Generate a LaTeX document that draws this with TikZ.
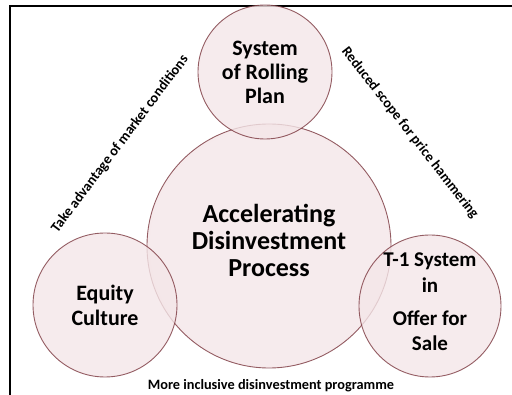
\documentclass[tikz,border=0pt]{standalone}
\usepackage{fontspec}
\setmainfont{Carlito}
\definecolor{bubin}{HTML}{F4E6E8}
\definecolor{bubmid}{HTML}{ECD3D6}
\definecolor{bubrim}{HTML}{CB8D95}
\definecolor{bubline}{HTML}{7A363E}
\pgfdeclareradialshading{bubbleshade}{\pgfpoint{0bp}{0bp}}{%
  color(0bp)=(bubin); color(24bp)=(bubin); color(42bp)=(bubmid);
  color(48bp)=(bubrim); color(49bp)=(bubrim); color(50bp)=(bubmid)}
\begin{document}
\begin{tikzpicture}[x=1pt,y=-1pt,
    bubble/.style={circle,draw=bubline,line width=.9pt,shading=bubbleshade,
      opacity=.8,inner sep=0pt},
    inside/.style={align=center,font=\bfseries\fontsize{#1}{#1}\selectfont},
    sidenote/.style={font=\bfseries\fontsize{14.3}{16}\selectfont}]
  \useasboundingbox (0,0) rectangle (512,395);
  \draw[line width=2pt](10,395) -- (10,6.5) -- (512,6.5);
  \node[bubble,minimum size=244pt] (core) at (269,246) {};
  \node[bubble,minimum size=134pt] (plan) at (265,72) {};
  \node[bubble,minimum size=144pt] (equity) at (105,305) {};
  \node[bubble,minimum size=142pt] (tone) at (430,306) {};
  \node[inside=26,text depth=0pt] (coretxt) at ([yshift=6pt]core) {Accelerating\\[1pt]Disinvestment\\[1pt]Process};
  \node[inside=22] (plantxt) at (plan) {System\\[2pt]of Rolling\\[2pt]Plan};
  \node[inside=22] (equitytxt) at (equity) {Equity\\[3pt]Culture};
  \node[inside=21] (tonetxt) at ([yshift=4pt]tone) {T-1 System\\[5pt]in\\[12pt]Offer for\\[4pt]Sale};
  \node[sidenote,rotate=53] (marketnote) at (120,144) {Take advantage of market conditions};
  \node[sidenote,rotate=-52] (pricenote) at (410,133) {Reduced scope for price hammering};
  \node[sidenote] (inclusivenote) at (271,386) {More inclusive disinvestment programme};
\end{tikzpicture}
\end{document}
